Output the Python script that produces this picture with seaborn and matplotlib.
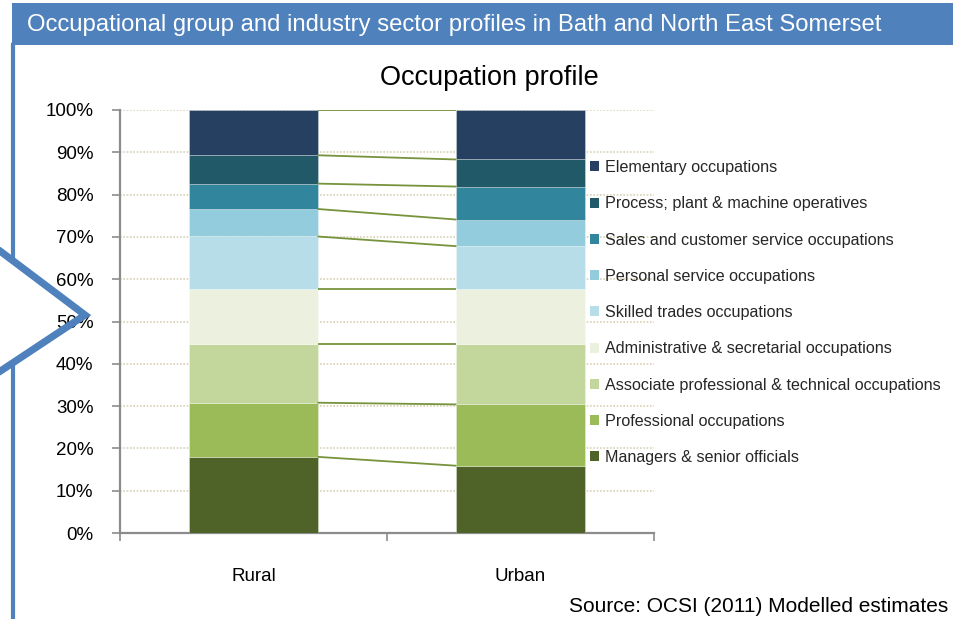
import numpy as np
import pandas as pd
import matplotlib
matplotlib.use("Agg")
import matplotlib.pyplot as plt
from matplotlib.patches import Rectangle, Patch
from matplotlib.lines import Line2D
import seaborn as sns

# ---------------- data ----------------
categories = ["Rural", "Urban"]
series = [
    "Managers & senior officials",
    "Professional occupations",
    "Associate professional & technical occupations",
    "Administrative & secretarial occupations",
    "Skilled trades occupations",
    "Personal service occupations",
    "Sales and customer service occupations",
    "Process; plant & machine operatives",
    "Elementary occupations",
]
rural = [18.0, 12.8, 13.9, 13.0, 12.4, 6.5, 6.0, 6.7, 10.7]
urban = [15.9, 14.5, 14.3, 13.0, 10.1, 6.3, 7.8, 6.4, 11.7]
colors = ["#4f6228", "#9bbb59", "#c3d69b", "#ebf1de", "#b7dee8",
          "#93cddd", "#31859c", "#215968", "#254061"]
yticks = [0, 10, 20, 30, 40, 50, 60, 70, 80, 90, 100]
ytick_labels = [f"{v}%" for v in yticks]

title = "Occupation profile"
header = "Occupational group and industry sector profiles in Bath and North East Somerset"
source = "Source: OCSI (2011) Modelled estimates"

# ---------------- style ----------------
sns.set_theme(style="white")
plt.rcParams["font.family"] = ["Liberation Sans", "DejaVu Sans"]

W, H = 954, 619
fig = plt.figure(figsize=(W / 100, H / 100), dpi=100)
fig.patch.set_facecolor("white")

def fx(px):
    return px / W

def fy(py):
    return 1 - py / H

ax_l, ax_r, ax_t, ax_b = 120, 654, 110, 533
ax = fig.add_axes([fx(ax_l), fy(ax_b), fx(ax_r - ax_l), (ax_b - ax_t) / H])
ax.set_facecolor("white")

df = pd.DataFrame({"category": np.repeat(categories, len(series)),
                   "series": series * len(categories),
                   "value": np.array(rural + urban) / 100.0})

bar_w = 0.48
cum = np.zeros(len(categories))
tops = []
for s, c in zip(series, colors):
    sub = df[df["series"] == s].set_index("category").loc[categories]
    vals = sub["value"].to_numpy()
    sns.barplot(x=categories, y=vals, bottom=cum, color=c, width=bar_w,
                errorbar=None, ax=ax, linewidth=0.6,
                edgecolor=(1, 1, 1, 0.35), saturation=1, zorder=3)
    cum = cum + vals
    tops.append(cum.copy())

# connector lines between bar boundaries
for t in tops:
    ax.plot([0 + bar_w / 2, 1 - bar_w / 2], [t[0], t[1]], color="#77933c",
            linewidth=1.3, zorder=4, solid_capstyle="butt")

ax.set_xlim(-0.5, 1.5)
ax.set_ylim(0, 1.0)
ax.set_yticks(np.array(yticks) / 100.0)
ax.set_yticklabels(ytick_labels, fontsize=13.5, color="black")
ax.set_xticks([0, 1])
ax.set_xticklabels(categories, fontsize=13.5, color="black")
ax.set_xticks([-0.5, 0.5, 1.5], minor=True)
ax.tick_params(axis="x", which="major", length=0, pad=25)
ax.tick_params(axis="x", which="minor", length=6, width=1.2, color="#8c8c8c",
               direction="out", bottom=True)
ax.tick_params(axis="y", which="major", length=6, width=1.2, color="#8c8c8c",
               direction="out", left=True, pad=13)
ax.set_xlabel("")
ax.set_ylabel("")
for side in ["top", "right"]:
    ax.spines[side].set_visible(False)
for side in ["left", "bottom"]:
    ax.spines[side].set_color("#8c8c8c")
    ax.spines[side].set_linewidth(1.6)
ax.yaxis.grid(True, linestyle=(0, (1, 1)), color="#d8d2b8", linewidth=1.2)
ax.xaxis.grid(False)
ax.set_axisbelow(True)

# legend (top series first)
handles = [Patch(facecolor=c, edgecolor="none") for c in colors[::-1]]
leg = fig.legend(handles, series[::-1], loc="upper left",
                 bbox_to_anchor=(fx(590), fy(160)), bbox_transform=fig.transFigure,
                 frameon=False, fontsize=11.6, borderpad=0, borderaxespad=0,
                 labelspacing=1.32, handlelength=0.58, handleheight=0.58,
                 handletextpad=0.35)

# title
fig.text(fx(489), fy(78), title, ha="center", va="center", fontsize=19.5, color="black")

# header band
fig.patches.append(Rectangle((fx(12), fy(45)), fx(W - 12), (45 - 3) / H,
                             transform=fig.transFigure, facecolor="#4f81bd",
                             edgecolor="none", zorder=1))
fig.text(fx(27), fy(25), header, ha="left", va="center", fontsize=17.2,
         color="white", zorder=5)

# left border line and chevron decoration
blue = "#4f81bd"
fig.add_artist(Line2D([fx(13.5), fx(13.5)], [fy(44), fy(259)], color=blue,
                      linewidth=3.0, transform=fig.transFigure, zorder=6))
fig.add_artist(Line2D([fx(13.5), fx(13.5)], [fy(362), fy(619)], color=blue,
                      linewidth=3.0, transform=fig.transFigure, zorder=6))
fig.add_artist(Line2D([fx(-4), fx(85), fx(-4)], [fy(248), fy(315), fy(374)],
                      color=blue, linewidth=5.2, transform=fig.transFigure,
                      zorder=7, solid_joinstyle="miter"))

# source
fig.text(fx(569), fy(606), source, ha="left", va="center", fontsize=15.0, color="black")

fig.savefig("out.png", dpi=100)
